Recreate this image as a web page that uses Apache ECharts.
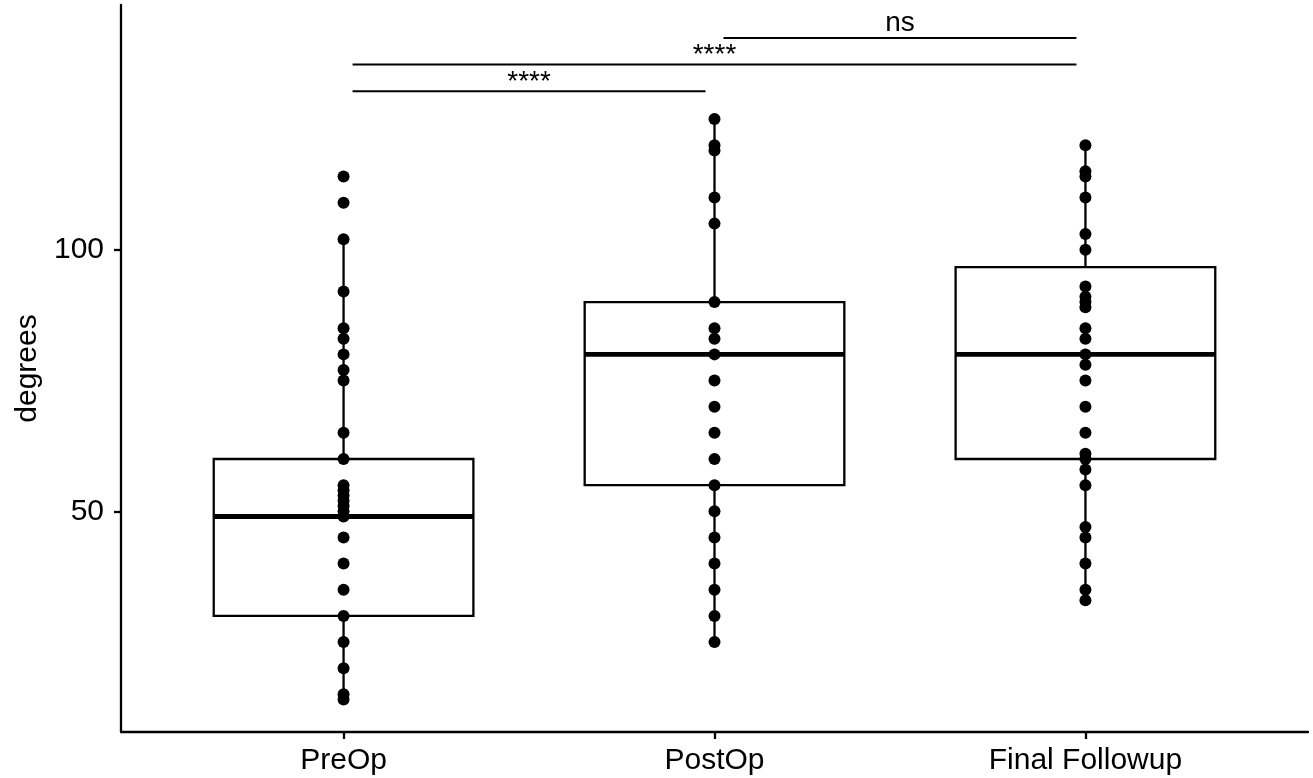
<!DOCTYPE html>
<html>
<head>
<meta charset="utf-8">
<script src="https://cdn.jsdelivr.net/npm/echarts@6/dist/echarts.min.js"></script>
<style>
  html, body { margin: 0; padding: 0; background: #fff; }
  #chart { width: 1313px; height: 778px; }
</style>
</head>
<body>
<div id="chart"></div>
<script>
const categories = ['PreOp', 'PostOp', 'Final Followup'];

const preOp = [114, 109, 102, 92, 85, 83, 80, 77, 75, 65, 60, 55, 54, 53, 52, 51, 50, 49, 45, 40, 35, 30, 25, 20, 15, 14];
const postOp = [125, 120, 119, 110, 105, 90, 85, 83, 80, 75, 70, 65, 60, 55, 50, 45, 40, 35, 30, 25];
const finalFollowup = [120, 115, 114, 110, 103, 100, 93, 91, 90, 89, 85, 83, 80, 78, 75, 70, 65, 61, 60, 58, 55, 47, 45, 40, 35, 33];

const boxLow = [14, 25, 33];
const boxQ1 = [30, 55, 60];
const boxMedian = [49, 80, 80];
const boxQ3 = [60, 90, 96.7];
const boxHigh = [102, 125, 120];

const yTicks = [50, 100];
const xTicks = [1, 2, 3];

const compFrom = [0, 0, 1];
const compTo = [1, 2, 2];
const compLevel = [130.3, 135.4, 140.5];
const compLabel = ['****', '****', 'ns'];

const FONT = '"Liberation Sans", Arial, Helvetica, sans-serif';

const groups = [preOp, postOp, finalFollowup];
const pointData = [];
groups.forEach((g, i) => g.forEach(v => pointData.push([i + 1, v])));

const boxData = categories.map((c, i) => [i + 1, boxLow[i], boxQ1[i], boxMedian[i], boxQ3[i], boxHigh[i]]);
const compData = compFrom.map((f, i) => [f + 1, compTo[i] + 1, compLevel[i], i]);

const chart = echarts.init(document.getElementById('chart'), null, { renderer: 'canvas' });

const LW = 2.3;

const option = {
  animation: false,
  backgroundColor: '#fff',
  grid: { left: 121, right: 5, top: 5, bottom: 46, containLabel: false },
  xAxis: {
    type: 'value',
    min: 0.4,
    max: 3.6,
    axisLine: { show: true, onZero: false, lineStyle: { color: '#000', width: LW } },
    axisTick: { show: true, customValues: xTicks, length: 7, lineStyle: { color: '#000', width: LW } },
    axisLabel: {
      show: true,
      customValues: xTicks,
      formatter: v => categories[Math.round(v) - 1] || '',
      color: '#000',
      fontSize: 30,
      fontFamily: FONT,
      margin: 14
    },
    splitLine: { show: false }
  },
  yAxis: {
    type: 'value',
    min: 7.8,
    max: 146.8,
    name: 'degrees',
    nameLocation: 'middle',
    nameRotate: 90,
    nameGap: 75,
    nameTextStyle: { color: '#000', fontSize: 30, fontFamily: FONT },
    axisLine: { show: true, onZero: false, lineStyle: { color: '#000', width: LW } },
    axisTick: { show: true, customValues: yTicks, length: 7, lineStyle: { color: '#000', width: LW } },
    axisLabel: {
      show: true,
      customValues: yTicks,
      color: '#000',
      fontSize: 30,
      fontFamily: FONT,
      margin: 17
    },
    splitLine: { show: false }
  },
  series: [
    {
      type: 'custom',
      name: 'box',
      data: boxData,
      encode: { x: 0, y: [1, 2, 3, 4, 5] },
      clip: false,
      z: 1,
      renderItem: function (params, api) {
        const x = api.value(0);
        const lo = api.value(1), q1 = api.value(2), med = api.value(3), q3 = api.value(4), hi = api.value(5);
        const half = 0.35;
        const c = api.coord([x, med]);
        const tl = api.coord([x - half, q3]);
        const br = api.coord([x + half, q1]);
        const pLo = api.coord([x, lo]);
        const pHi = api.coord([x, hi]);
        const lineStyle = { stroke: '#000', lineWidth: LW };
        return {
          type: 'group',
          children: [
            { type: 'line', shape: { x1: c[0], y1: tl[1], x2: c[0], y2: pHi[1] }, style: lineStyle },
            { type: 'line', shape: { x1: c[0], y1: br[1], x2: c[0], y2: pLo[1] }, style: lineStyle },
            { type: 'rect', shape: { x: tl[0], y: tl[1], width: br[0] - tl[0], height: br[1] - tl[1] },
              style: { fill: '#fff', stroke: '#000', lineWidth: LW } },
            { type: 'line', shape: { x1: tl[0], y1: c[1], x2: br[0], y2: c[1] }, style: { stroke: '#000', lineWidth: 4.8 } }
          ]
        };
      }
    },
    {
      type: 'scatter',
      name: 'points',
      data: pointData,
      symbol: 'circle',
      symbolSize: 12,
      itemStyle: { color: '#000', opacity: 1 },
      z: 3
    },
    {
      type: 'custom',
      name: 'signif',
      data: compData,
      encode: { x: [0, 1], y: 2 },
      clip: false,
      z: 4,
      renderItem: function (params, api) {
        const a = api.value(0), b = api.value(1), lvl = api.value(2), idx = api.value(3);
        const p1 = api.coord([a, lvl]);
        const p2 = api.coord([b, lvl]);
        const inset = 9;
        const label = compLabel[idx];
        const isStar = label.indexOf('*') >= 0;
        return {
          type: 'group',
          children: [
            { type: 'line', shape: { x1: p1[0] + inset, y1: p1[1], x2: p2[0] - inset, y2: p1[1] },
              style: { stroke: '#000', lineWidth: 2 } },
            { type: 'text',
              style: {
                x: (p1[0] + p2[0]) / 2,
                y: p1[1] - (isStar ? -5 : 1),
                text: label,
                fill: '#000',
                fontSize: 28,
                fontFamily: FONT,
                align: 'center',
                verticalAlign: 'bottom'
              } }
          ]
        };
      }
    }
  ]
};

chart.setOption(option);
</script>
</body>
</html>
